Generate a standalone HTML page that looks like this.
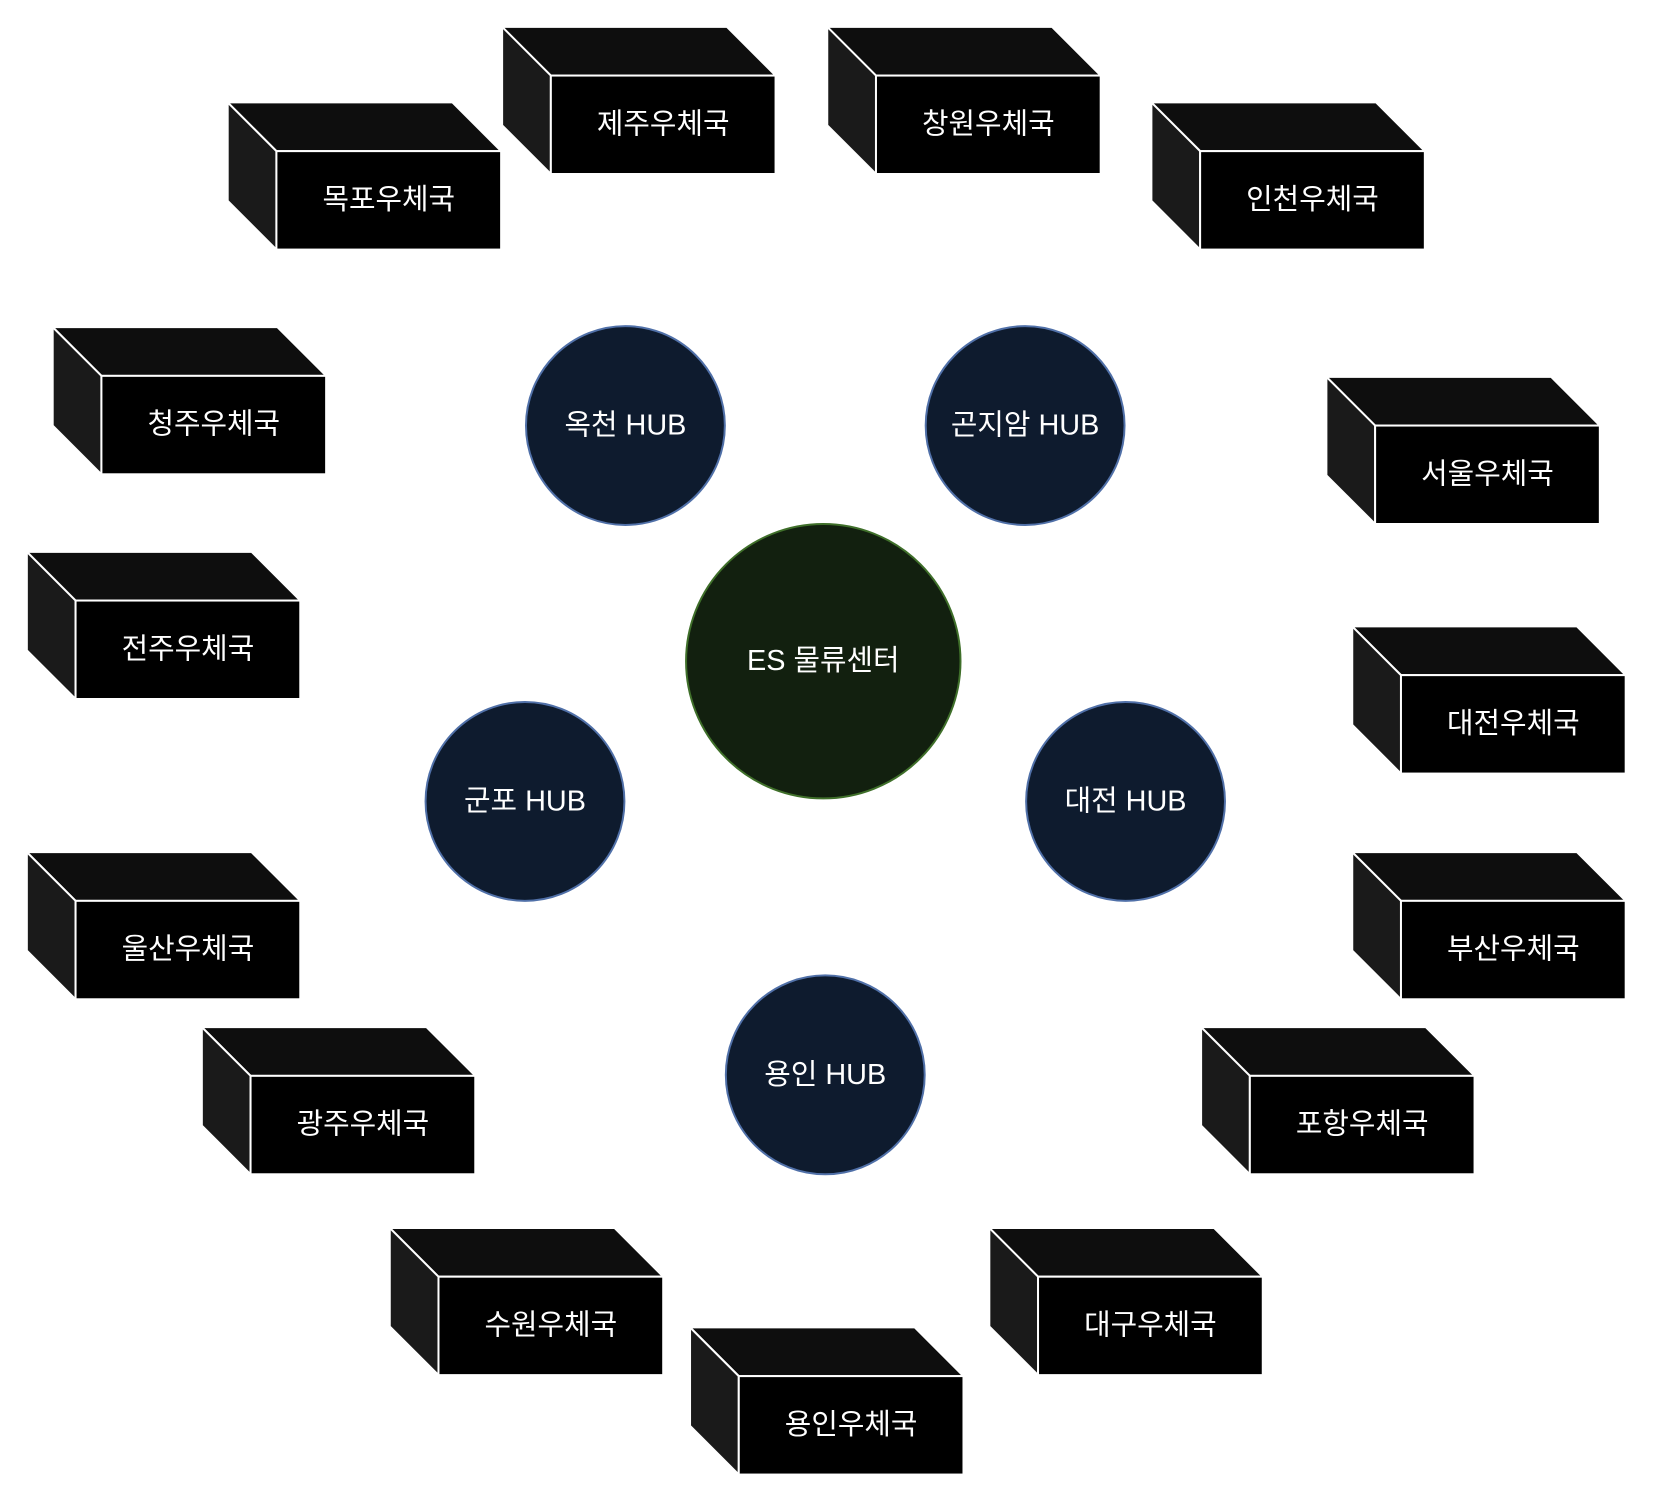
<!DOCTYPE html>
<html><head><meta charset="utf-8"><style>
html,body{margin:0;padding:0;background:#fff;}
svg{display:block;}
text{font-family:"Liberation Sans","Noto Sans CJK KR",sans-serif;fill:#fff;font-size:29px;text-anchor:middle;dominant-baseline:central;}
</style></head><body>
<svg width="1653" height="1503" viewBox="0 0 1653 1503" xmlns="http://www.w3.org/2000/svg">
<defs>
<g id="box">
<polygon points="0,0 -49,-49 177,-49 226,0" fill="#0e0e0e" stroke="#fff" stroke-width="2"/>
<polygon points="0,0 -49,-49 -49,50 0,99" fill="#1a1a1a" stroke="#fff" stroke-width="2"/>
<rect x="0" y="0" width="226" height="99" fill="#000" stroke="#fff" stroke-width="2"/>
</g>
</defs>
<g transform="scale(0.9943)">
<g>
<use href="#box" x="278" y="152"/><text x="391" y="201">목포우체국</text>
<use href="#box" x="554" y="76"/><text x="667" y="125">제주우체국</text>
<use href="#box" x="881" y="76"/><text x="994" y="125">창원우체국</text>
<use href="#box" x="1207" y="152"/><text x="1320" y="201">인천우체국</text>
<use href="#box" x="102" y="378"/><text x="215" y="427">청주우체국</text>
<use href="#box" x="1383" y="428"/><text x="1496" y="477">서울우체국</text>
<use href="#box" x="76" y="604"/><text x="189" y="653">전주우체국</text>
<use href="#box" x="1409" y="679"/><text x="1522" y="728">대전우체국</text>
<use href="#box" x="76" y="906"/><text x="189" y="955">울산우체국</text>
<use href="#box" x="1409" y="906"/><text x="1522" y="955">부산우체국</text>
<use href="#box" x="252" y="1082"/><text x="365" y="1131">광주우체국</text>
<use href="#box" x="1257" y="1082"/><text x="1370" y="1131">포항우체국</text>
<use href="#box" x="441" y="1284"/><text x="554" y="1333">수원우체국</text>
<use href="#box" x="1044" y="1284"/><text x="1157" y="1333">대구우체국</text>
<use href="#box" x="743" y="1384"/><text x="856" y="1433">용인우체국</text>
</g>
<g stroke="#5070a8" stroke-width="2" fill="#0e1b2e">
<circle cx="629" cy="428" r="100"/>
<circle cx="1031" cy="428" r="100"/>
<circle cx="528" cy="806" r="100"/>
<circle cx="1132" cy="806" r="100"/>
<circle cx="830" cy="1081" r="100"/>
</g>
<circle cx="828" cy="665" r="138" fill="#12200f" stroke="#3f6f2a" stroke-width="2"/>
<text x="629" y="428">옥천 HUB</text>
<text x="1031" y="428">곤지암 HUB</text>
<text x="528" y="806">군포 HUB</text>
<text x="1132" y="806">대전 HUB</text>
<text x="830" y="1081">용인 HUB</text>
<text x="828" y="665">ES 물류센터</text>
</g>
</svg>
</body></html>
